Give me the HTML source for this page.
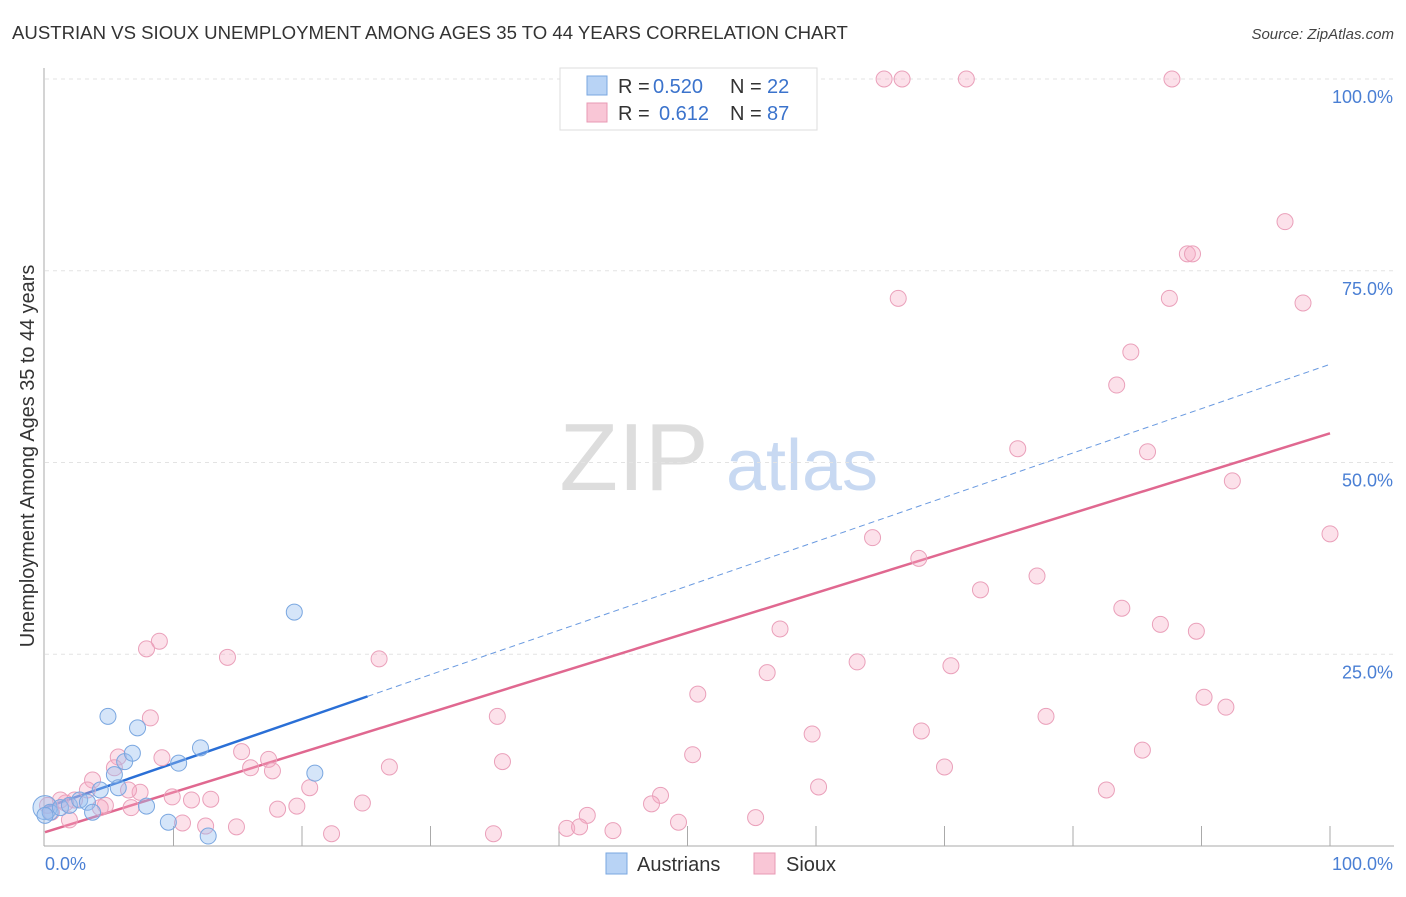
<!DOCTYPE html>
<html><head><meta charset="utf-8"><style>
body{margin:0;background:#fff;font-family:"Liberation Sans",sans-serif}
svg text{font-family:"Liberation Sans",sans-serif}
</style></head><body>
<svg id="chart" width="1406" height="892" xmlns="http://www.w3.org/2000/svg">
<text x="12" y="39" font-size="18.6" fill="#333">AUSTRIAN VS SIOUX UNEMPLOYMENT AMONG AGES 35 TO 44 YEARS CORRELATION CHART</text>
<text x="1394" y="39" font-size="15" fill="#444" text-anchor="end" font-style="italic">Source: ZipAtlas.com</text>
<g>
<text x="634" y="490" font-size="96" fill="#ddd" text-anchor="middle" font-family="Liberation Serif, serif">ZIP</text>
<text x="802" y="490" font-size="72" fill="#c8d9f2" text-anchor="middle">atlas</text>
</g>
<g id="grid"></g>
<g id="axes"></g>
<g id="trends"></g>
<g id="points"></g>
<text transform="translate(34,456) rotate(-90)" font-size="19.9" fill="#333" text-anchor="middle">Unemployment Among Ages 35 to 44 years</text>
<g>
<rect x="560" y="68" width="257" height="62" fill="#fff" stroke="#ddd"/>
<rect x="587" y="76" width="20" height="19" fill="#b8d3f5" stroke="#7aa7e0"/>
<rect x="587" y="103" width="20" height="19" fill="#f9c6d6" stroke="#e89ab4"/>
<text x="618" y="93" font-size="20" fill="#333">R =</text>
<text x="653" y="93" font-size="20" fill="#3b73cc">0.520</text>
<text x="730" y="93" font-size="20" fill="#333">N =</text>
<text x="767" y="93" font-size="20" fill="#3b73cc">22</text>
<text x="618" y="120" font-size="20" fill="#333">R =</text>
<text x="659" y="120" font-size="20" fill="#3b73cc">0.612</text>
<text x="730" y="120" font-size="20" fill="#333">N =</text>
<text x="767" y="120" font-size="20" fill="#3b73cc">87</text>
</g>
<g>
<rect x="606" y="853" width="21" height="21" fill="#b8d3f5" stroke="#7aa7e0"/>
<text x="637" y="871" font-size="20" fill="#333">Austrians</text>
<rect x="754" y="853" width="21" height="21" fill="#f9c6d6" stroke="#e89ab4"/>
<text x="786" y="871" font-size="20" fill="#333">Sioux</text>
</g>
</svg>
<script>
const yTicks=[25,50,75,100];
const yTickLabels=["25.0%","50.0%","75.0%","100.0%"];
const xEndLabels=["0.0%","100.0%"];
const austX=[0,0.4,1.2,1.9,2.7,3.3,3.7,4.3,4.9,5.4,5.7,6.2,6.8,7.2,7.9,9.6,10.4,12.1,12.7,19.4,21.0,0];
const austY=[5.0,4.4,5.0,5.3,6.0,5.7,4.4,7.3,16.9,9.3,7.6,11.0,12.1,15.4,5.2,3.1,10.8,12.8,1.3,30.5,9.5,4.0];
const siouxX=[46.6,65.3,66.7,71.7,87.7,96.5,88.9,89.3,66.4,87.5,97.9,84.5,83.4,75.7,85.8,92.4,100,64.4,68.0,72.8,77.2,83.8,86.8,89.6,57.2,63.2,70.5,56.2,50.8,90.2,91.9,77.9,35.2,68.2,59.7,85.4,50.4,70.0,60.2,82.6,47.9,47.2,42.2,40.6,41.6,44.2,49.3,55.3,34.9,35.6,26.8,26.0,24.7,22.3,19.6,20.6,18.1,17.4,17.7,16.0,15.3,14.2,14.9,12.9,12.5,11.4,10.7,9.9,9.1,8.9,8.2,7.9,7.4,6.7,6.5,5.7,5.4,4.7,3.7,3.3,2.3,1.6,1.2,0.5,0.2,1.9,4.3];
const siouxY=[100,100,100,100,100,81.4,77.2,77.2,71.4,71.4,70.8,64.4,60.1,51.8,51.4,47.6,40.7,40.2,37.5,33.4,35.2,31.0,28.9,28.0,28.3,24.0,23.5,22.6,19.8,19.4,18.1,16.9,16.9,15.0,14.6,12.5,11.9,10.3,7.7,7.3,6.6,5.5,4.0,2.3,2.5,2.0,3.1,3.7,1.6,11.0,10.3,24.4,5.6,1.6,5.2,7.6,4.8,11.3,9.8,10.2,12.3,24.6,2.5,6.1,2.6,6.0,3.0,6.4,11.5,26.7,16.7,25.7,7.0,5.0,7.3,11.6,10.2,5.3,8.6,7.3,6.0,5.6,6.0,4.4,5.3,3.4,5.0];
const austTrend=[5.0,0.578];
const austSolidEnd=25.1;
const siouxTrend=[1.8,0.52];

const NS="http://www.w3.org/2000/svg";
const X=v=>45+v*12.85, Y=v=>846-v*7.67;
function mk(tag,attrs,parent){const e=document.createElementNS(NS,tag);for(const k in attrs)e.setAttribute(k,attrs[k]);document.getElementById(parent).appendChild(e);return e;}
yTicks.forEach((t,i)=>{
 const g=mk('line',{x1:45,x2:1394,y1:Y(t),y2:Y(t),stroke:'#e3e3e3','stroke-dasharray':'4,4'},'grid');
 
 
 const l=mk('text',{x:1393,y:Y(t)+24,'font-size':18,fill:'#4a7fd4','text-anchor':'end'},'axes');
 l.textContent=yTickLabels[i];
 
 
});
const ya=mk('line',{x1:44,x2:44,y1:68,y2:846,stroke:'#aaa'},'axes');


const xa=mk('line',{x1:44,x2:1394,y1:846,y2:846,stroke:'#aaa'},'axes');


for(let i=1;i<=10;i++){const t=mk('line',{x1:X(i*10),x2:X(i*10),y1:826,y2:846,stroke:'#aaa'},'axes');
 
 }
const xl0=mk('text',{x:45,y:870,'font-size':18,fill:'#4a7fd4'},'axes');xl0.textContent=xEndLabels[0];


const xl1=mk('text',{x:1393,y:870,'font-size':18,fill:'#4a7fd4','text-anchor':'end'},'axes');xl1.textContent=xEndLabels[1];


const fa=x=>austTrend[0]+austTrend[1]*x, fs=x=>siouxTrend[0]+siouxTrend[1]*x;
const t1=mk('line',{x1:X(0),y1:Y(fa(0)),x2:X(austSolidEnd),y2:Y(fa(austSolidEnd)),stroke:'#2a6fd6','stroke-width':2.5},'trends');


const t2=mk('line',{x1:X(austSolidEnd),y1:Y(fa(austSolidEnd)),x2:X(100),y2:Y(fa(100)),stroke:'#6a9ae0','stroke-width':1,'stroke-dasharray':'6,4'},'trends');


const t3=mk('line',{x1:X(0),y1:Y(fs(0)),x2:X(100),y2:Y(fs(100)),stroke:'#e06890','stroke-width':2.5},'trends');


siouxX.forEach((x,i)=>{const c=mk('circle',{cx:X(x),cy:Y(siouxY[i]),r:8,fill:'rgba(246,170,196,0.35)',stroke:'#eaa0ba','stroke-width':1},'points');
 
 });
austX.forEach((x,i)=>{const c=mk('circle',{cx:X(x),cy:Y(austY[i]),r:i==0?12:8,fill:'rgba(150,190,240,0.4)',stroke:'#7aa7e0','stroke-width':1},'points');
 
 });
</script>
</body></html>
